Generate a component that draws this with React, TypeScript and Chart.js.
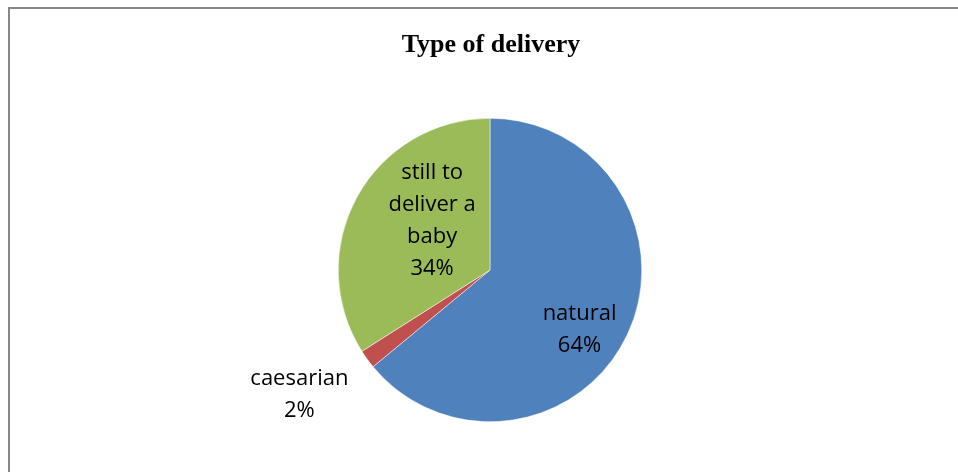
import React, { useEffect, useRef } from "react";
import { Chart, registerables } from "chart.js";

Chart.register(...registerables);

const title = "Type of delivery";
const categories = ["natural", "caesarian", "still to deliver a baby"];
const values = [64, 2, 34];
const colors = ["#4F81BD", "#C0504D", "#9BBB59"];
const labelLines = [["natural", "64%"], ["caesarian", "2%"], ["still to", "deliver a", "baby", "34%"]];
// label placement: radial fraction of radius and angle shift (radians)
const labelRadius = [0.71, 1.5, 0.5];
const labelAngleShift = [0.15, 0.05, 0.2];

const decor = {
  id: "decor",
  beforeDraw(chart: any) {
    const ctx = chart.ctx;
    ctx.save();
    ctx.fillStyle = "#ffffff";
    ctx.fillRect(0, 0, chart.width, chart.height);
    ctx.strokeStyle = "#888888";
    ctx.lineWidth = 2;
    ctx.beginPath();
    ctx.moveTo(9, chart.height + 5);
    ctx.lineTo(9, 8);
    ctx.lineTo(chart.width + 5, 8);
    ctx.stroke();
    ctx.fillStyle = "#000000";
    ctx.font = "bold 26px 'Liberation Serif', 'Times New Roman', serif";
    ctx.textAlign = "center";
    ctx.textBaseline = "middle";
    ctx.fillText(title, 491, 45);
    ctx.restore();
  },
  afterDatasetsDraw(chart: any) {
    const ctx = chart.ctx;
    const meta = chart.getDatasetMeta(0);
    ctx.save();
    ctx.fillStyle = "#000000";
    ctx.font = "22px 'Open Sans', 'Noto Sans', sans-serif";
    ctx.textAlign = "center";
    ctx.textBaseline = "middle";
    meta.data.forEach((arc: any, i: number) => {
      const p = arc.getProps(["x", "y", "startAngle", "endAngle", "outerRadius"], true);
      const mid = (p.startAngle + p.endAngle) / 2 + labelAngleShift[i];
      const r = p.outerRadius * labelRadius[i];
      const cx = p.x + Math.cos(mid) * r;
      const cy = p.y + Math.sin(mid) * r;
      const lines = labelLines[i];
      const lh = 32;
      lines.forEach((t, j) => {
        ctx.fillText(t, cx, cy + (j - (lines.length - 1) / 2) * lh);
      });
    });
    ctx.restore();
  },
};

export default function App() {
  const ref = useRef<HTMLCanvasElement>(null);
  useEffect(() => {
    if (!ref.current) return;
    const chart = new Chart(ref.current, {
      type: "pie",
      data: {
        labels: categories,
        datasets: [
          {
            data: values,
            backgroundColor: colors,
            borderColor: "#ffffff",
            borderWidth: 0.5,
          },
        ],
      },
      options: {
        animation: false,
        responsive: false,
        layout: { padding: { left: 22, right: 0, top: 118, bottom: 50 } },
        plugins: {
          legend: { display: false },
          tooltip: { enabled: false },
          title: { display: false },
        },
      },
      plugins: [decor],
    });
    return () => chart.destroy();
  }, []);
  return (
    <div style={{ position: "fixed", left: 0, top: 0, width: 958, height: 472 }}>
      <canvas ref={ref} width={958} height={472} style={{ width: 958, height: 472 }} />
    </div>
  );
}
